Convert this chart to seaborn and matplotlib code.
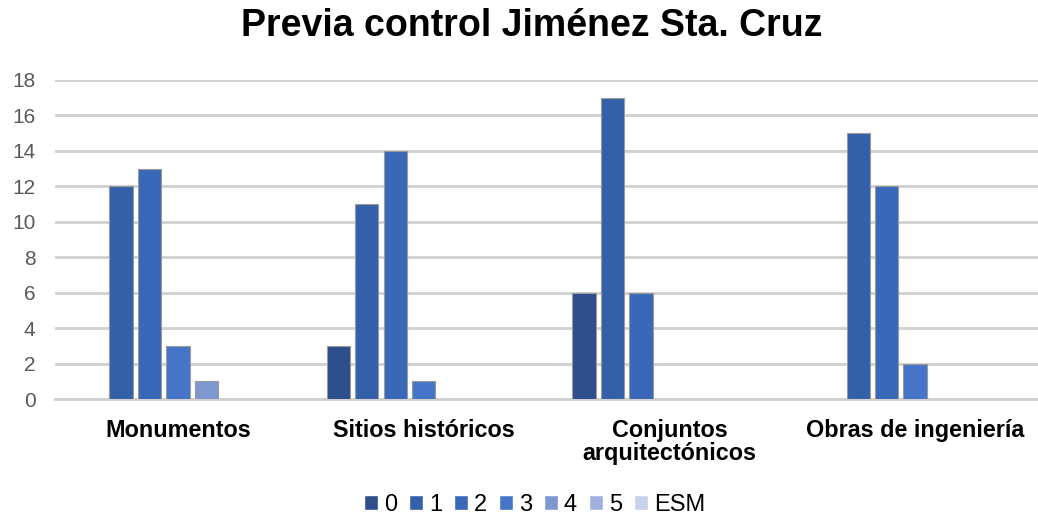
import matplotlib
matplotlib.use("Agg")
import matplotlib.pyplot as plt
import seaborn as sns
import pandas as pd

categories = ["Monumentos", "Sitios históricos", "Conjuntos\narquitectónicos", "Obras de ingeniería"]
series = ["0", "1", "2", "3", "4", "5", "ESM"]
vals_0 = [0, 3, 6, 0]
vals_1 = [12, 11, 17, 15]
vals_2 = [13, 14, 6, 12]
vals_3 = [3, 1, 0, 2]
vals_4 = [1, 0, 0, 0]
vals_5 = [0, 0, 0, 0]
vals_esm = [0, 0, 0, 0]
colors = ["#2e4e8c", "#3360a9", "#3a68b8", "#4674c8", "#7f97d1", "#a0b1dd", "#c6d1ea"]

all_vals = [vals_0, vals_1, vals_2, vals_3, vals_4, vals_5, vals_esm]
rows = []
for s, vals in zip(series, all_vals):
    for c, v in zip(categories, vals):
        rows.append({"cat": c, "serie": s, "valor": v})
df = pd.DataFrame(rows)

sns.set_style("white")
plt.rcParams["font.family"] = ["Liberation Sans", "DejaVu Sans"]
plt.rcParams["text.color"] = "black"

fig = plt.figure(figsize=(10.38, 5.19), dpi=100)
ax = fig.add_axes([0.053, 0.231, 0.947, 0.615])

sns.barplot(data=df, x="cat", y="valor", hue="serie", hue_order=series,
            order=categories, palette=colors, saturation=1, width=0.81, gap=0.18,
            edgecolor="#9a9a9a", linewidth=0.8, ax=ax, zorder=3, legend=False)

ax.set_ylim(0, 18)
ax.set_xlim(-0.5, 3.5)
ax.set_yticks(range(0, 19, 2))
ax.yaxis.grid(True, color="#d0d0d0", linewidth=2)
ax.set_axisbelow(True)
for sp in ["top", "right", "left"]:
    ax.spines[sp].set_visible(False)
ax.spines["bottom"].set_color("#d0d0d0")
ax.spines["bottom"].set_linewidth(2)
ax.tick_params(axis="y", labelsize=15, colors="#595959", length=0, pad=14)
ax.tick_params(axis="x", labelsize=16.8, colors="black", length=0, pad=14)
for lbl in ax.get_xticklabels():
    lbl.set_fontweight("bold")
    lbl.set_linespacing(1.0)
ax.set_xlabel("")
ax.set_ylabel("")

fig.suptitle("Previa control Jiménez Sta. Cruz", fontsize=27, fontweight="bold",
             color="black", x=0.512, y=0.985)

handles = [matplotlib.patches.Patch(facecolor=c) for c in colors]
fig.legend(handles, series, loc="center", bbox_to_anchor=(0.515, 0.027),
           ncol=7, frameon=False, fontsize=17, handlelength=0.6, handleheight=0.6,
           handletextpad=0.25, columnspacing=0.5)

fig.savefig("out.png", dpi=100)
